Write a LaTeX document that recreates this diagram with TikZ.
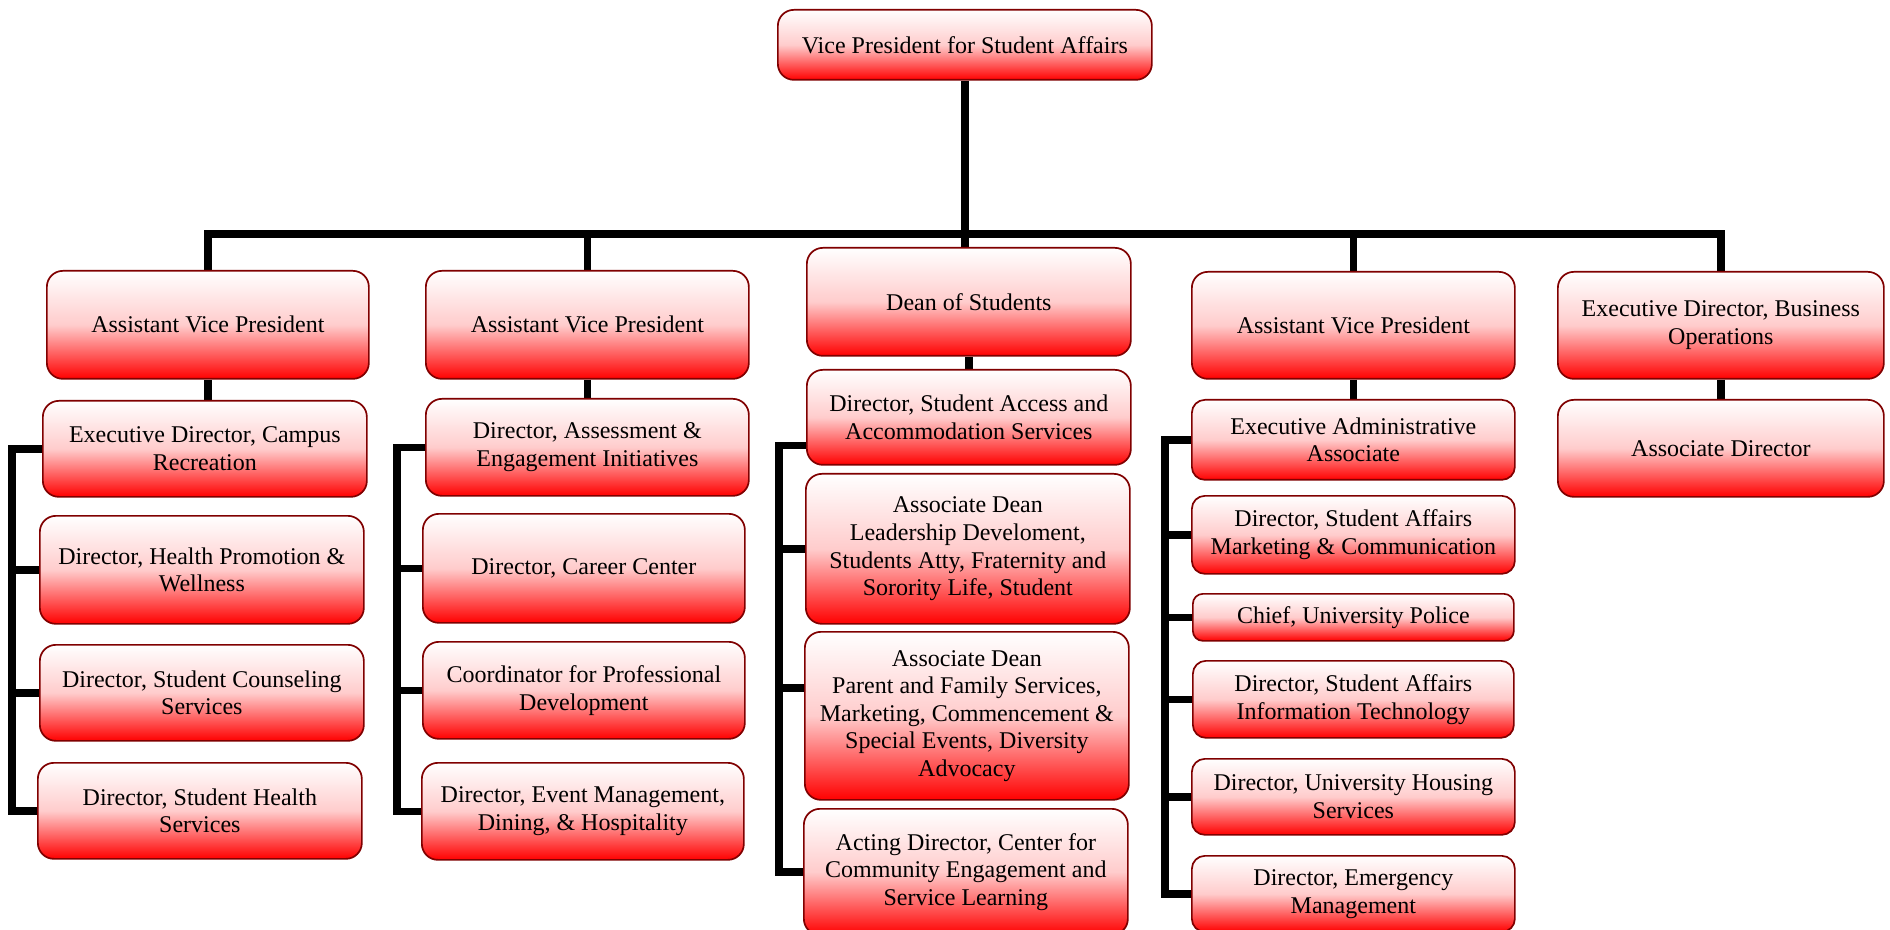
\documentclass[tikz,border=0pt]{standalone}
\usepackage{fontspec}
\setmainfont{Liberation Serif}
\usepackage{tikz}
\usetikzlibrary{positioning,calc,backgrounds}
\definecolor{BoxRed}{RGB}{255,0,0}
\definecolor{BoxEdge}{RGB}{128,0,0}
\tikzset{
    orgbox/.style={rectangle, rounded corners=8pt, draw=BoxEdge, line width=0.85pt, top color=white, bottom color=BoxRed, middle color=red!20, align=center, inner sep=2pt, font=\fontsize{12}{13.8}\selectfont, anchor=north west},
    link/.style={draw=black, line width=3.75pt}
}
\begin{document}
\begin{tikzpicture}[
        x=0.5pt, y=-0.5pt,
        % --- SIZES ---
        sz/.style 2 args={minimum width=#1, minimum height=#2}
    ]
        \useasboundingbox (0,0) rectangle (1890,930);

        % --- TOP ---
        \node[orgbox, sz={187pt}{35pt}] (vp) at (777,9) {Vice President for Student Affairs};

        % --- LEVEL 1 ---
        \node[orgbox, sz={161pt}{54pt}] (avp1) at (46,270) {Assistant Vice President};
        \node[orgbox, sz={161.5pt}{54pt}] (avp2) at (425,270) {Assistant Vice President};
        \node[orgbox, sz={162pt}{54pt}] (dean) at (806,247) {Dean of Students};
        \node[orgbox, sz={161.5pt}{53.5pt}] (avp3) at (1191,271) {Assistant Vice President};
        \node[orgbox, sz={163pt}{53.5pt}] (ebo) at (1557,271) {Executive Director, Business\\Operations};

        % --- COLUMN 1 ---
        \node[orgbox, sz={162pt}{48pt}] (c1a) at (42,400) {Executive Director, Campus\\Recreation};
        \node[orgbox, sz={162pt}{54pt}] (c1b) at (39,515) {Director, Health Promotion \&\\Wellness};
        \node[orgbox, sz={162pt}{48pt}] (c1c) at (39,644) {Director, Student Counseling\\Services};
        \node[orgbox, sz={162pt}{48pt}] (c1d) at (37,762) {Director, Student Health\\Services};

        % --- COLUMN 2 ---
        \node[orgbox, sz={161.5pt}{48.5pt}] (c2a) at (425,398) {Director, Assessment \&\\Engagement Initiatives};
        \node[orgbox, sz={161pt}{54.5pt}] (c2b) at (422,513) {Director, Career Center};
        \node[orgbox, sz={161pt}{48.5pt}] (c2c) at (422,641) {Coordinator for Professional\\Development};
        \node[orgbox, sz={161pt}{48.5pt}] (c2d) at (421,762) {Director, Event Management,\\Dining, \& Hospitality};

        % --- COLUMN 3 ---
        \node[orgbox, sz={162pt}{47.5pt}] (c3a) at (806,369) {Director, Student Access and\\Accommodation Services};
        \node[orgbox, sz={162pt}{75pt}] (c3b) at (805,473) {Associate Dean\\Leadership Develoment,\\Students Atty, Fraternity and\\Sorority Life, Student};
        \node[orgbox, sz={162pt}{84pt}] (c3c) at (804,631) {Associate Dean\\Parent and Family Services,\\Marketing, Commencement \&\\Special Events, Diversity\\Advocacy};
        \node[orgbox, sz={162pt}{63pt}] (c3d) at (803,808) {Acting Director, Center for\\Community Engagement and\\Service Learning};

        % --- COLUMN 4 ---
        \node[orgbox, rounded corners=6.5pt, sz={161.5pt}{40pt}] (c4a) at (1191,399) {Executive Administrative\\Associate};
        \node[orgbox, rounded corners=6.5pt, sz={161.5pt}{39pt}] (c4b) at (1191,495) {Director, Student Affairs\\Marketing \& Communication};
        \node[orgbox, rounded corners=5pt, sz={160.5pt}{23.5pt}] (c4c) at (1192,593) {Chief, University Police};
        \node[orgbox, rounded corners=6.5pt, sz={160.5pt}{38.5pt}] (c4d) at (1192,660) {Director, Student Affairs\\Information Technology};
        \node[orgbox, rounded corners=6.5pt, sz={161.5pt}{38pt}] (c4e) at (1191,758) {Director, University Housing\\Services};
        \node[orgbox, rounded corners=6.5pt, sz={161.5pt}{38pt}] (c4f) at (1191,855) {Director, Emergency\\Management};

        % --- COLUMN 5 ---
        \node[orgbox, sz={163pt}{48.5pt}] (c5a) at (1557,399) {Associate Director};

        % --- CONNECTORS ---
        \coordinate (bar) at (0,234);
        \coordinate (r1) at (12,0);
        \coordinate (r2) at (397,0);
        \coordinate (r3) at (779,0);
        \coordinate (r4) at (1165,0);

        \begin{pgfonlayer}{background}
            % top bar
            \draw[link] (avp1) -- (avp1 |- bar) -- (ebo |- bar) -- (ebo);
            \draw[link] (vp) -- (vp |- dean);
            \draw[link] (avp2 |- bar) -- (avp2);
            \draw[link] (avp3 |- bar) -- (avp3);

            % heads to first child
            \draw[link] (avp1) -- (avp1 |- c1a);
            \draw[link] (avp2) -- (avp2 |- c2a);
            \draw[link] (dean) -- (dean |- c3a);
            \draw[link] (avp3) -- (avp3 |- c4a);
            \draw[link] (ebo) -- (ebo |- c5a);

            % side rails
            \draw[link] (c1a.west) -| (r1 |- c1d.west) -- (c1d.west);
            \foreach \n in {c1b, c1c}
                \draw[link] (\n.west) -- (r1 |- \n.west);

            \draw[link] (c2a.west) -| (r2 |- c2d.west) -- (c2d.west);
            \foreach \n in {c2b, c2c}
                \draw[link] (\n.west) -- (r2 |- \n.west);

            \draw[link] ([yshift=-14pt]c3a.west) -| (r3 |- c3d.west) -- (c3d.west);
            \draw[link] (c3b.west) -- (r3 |- c3b.west);
            \draw[link] ([yshift=14pt]c3c.west) -- ([yshift=14pt]r3 |- c3c.west);

            \draw[link] (c4a.west) -| (r4 |- c4f.west) -- (c4f.west);
            \foreach \n in {c4b, c4c, c4d, c4e}
                \draw[link] (\n.west) -- (r4 |- \n.west);
        \end{pgfonlayer}

    \end{tikzpicture}
\end{document}
